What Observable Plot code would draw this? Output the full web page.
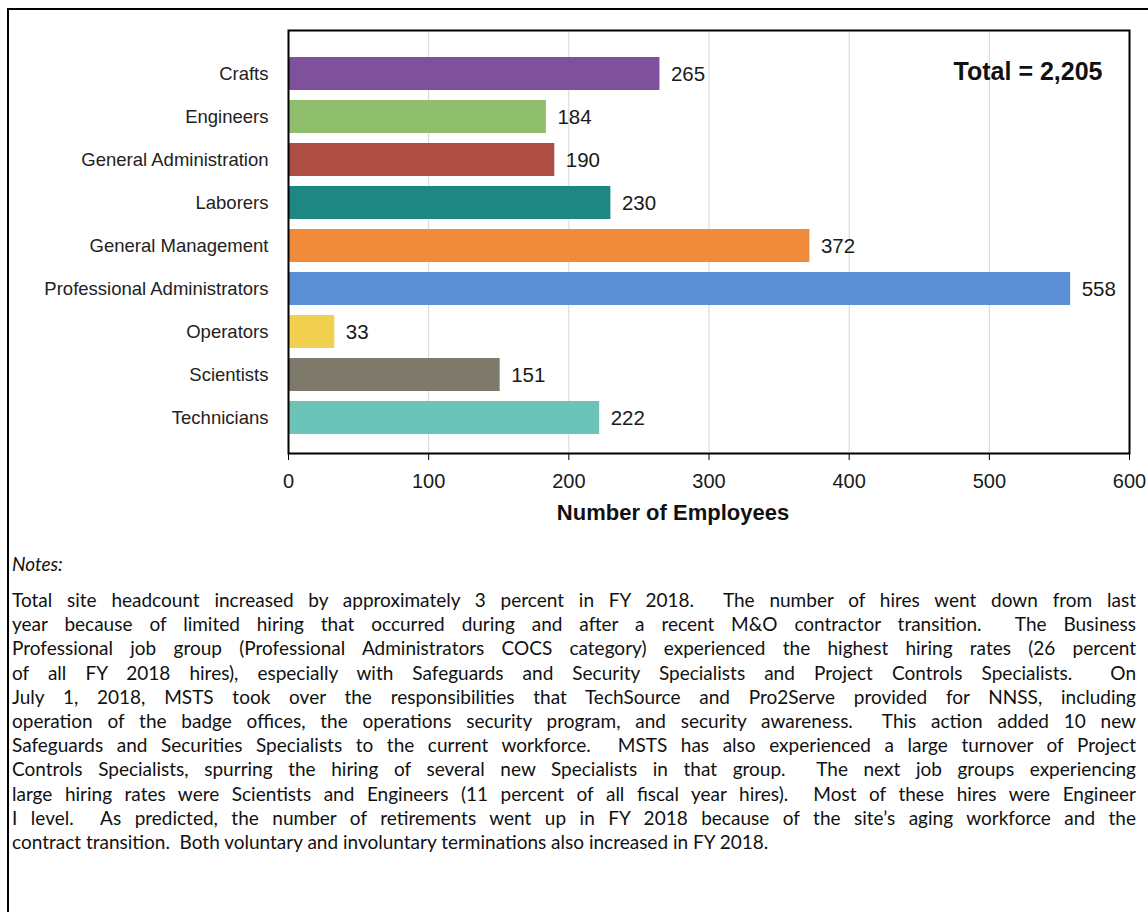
<!DOCTYPE html>
<html>
<head>
<meta charset="utf-8">
<script src="https://cdn.jsdelivr.net/npm/d3@7"></script>
<script src="https://cdn.jsdelivr.net/npm/@observablehq/plot@0.6"></script>
<style>
  html, body { margin: 0; padding: 0; background: #fff; }
  #page { position: relative; width: 1148px; height: 912px; overflow: hidden; }
  #border { position: absolute; left: 7px; top: 8px; width: 1200px; height: 1000px;
            border-top: 2px solid #000; border-left: 2px solid #000; }
  #chart { position: absolute; left: 0; top: 0; }
  #notes-title { position: absolute; left: 12px; top: 552px; font-family: Lato, sans-serif;
                 font-style: italic; font-size: 19px; color: #111; }
  #notes { position: absolute; left: 12px; top: 588px; width: 1124px; font-family: Lato, sans-serif;
           font-size: 19px; color: #111; }
  #notes .ln { white-space: pre; text-align: justify; text-align-last: justify; height: 24.2px; line-height: 24.2px; }
  #notes .ln.last { text-align-last: left; }
</style>
</head>
<body>
<div id="page">
  <div id="border"></div>
  <div id="chart"></div>
  <div id="notes-title">Notes:</div>
  <div id="notes"></div>
</div>
<script>
const categories = ["Crafts", "Engineers", "General Administration", "Laborers", "General Management",
  "Professional Administrators", "Operators", "Scientists", "Technicians"];
const values = [265, 184, 190, 230, 372, 558, 33, 151, 222];
const barColors = ["#7f509c", "#8fbf6c", "#ad4d43", "#1e8783", "#ef8b3b", "#5a8ed5", "#f1d04f", "#7d7a6c", "#6cc3b8"];
const xTicks = [0, 100, 200, 300, 400, 500, 600];
const totalLabel = "Total = 2,205";
const xLabel = "Number of Employees";
const noteLines = [
  "Total site headcount increased by approximately 3 percent in FY 2018.  The number of hires went down from last",
  "year because of limited hiring that occurred during and after a recent M&O contractor transition.  The Business",
  "Professional job group (Professional Administrators COCS category) experienced the highest hiring rates (26 percent",
  "of all FY 2018 hires), especially with Safeguards and Security Specialists and Project Controls Specialists.  On",
  "July 1, 2018, MSTS took over the responsibilities that TechSource and Pro2Serve provided for NNSS, including",
  "operation of the badge offices, the operations security program, and security awareness.  This action added 10 new",
  "Safeguards and Securities Specialists to the current workforce.  MSTS has also experienced a large turnover of Project",
  "Controls Specialists, spurring the hiring of several new Specialists in that group.  The next job groups experiencing",
  "large hiring rates were Scientists and Engineers (11 percent of all fiscal year hires).  Most of these hires were Engineer",
  "I level.  As predicted, the number of retirements went up in FY 2018 because of the site\u2019s aging workforce and the",
  "contract transition.  Both voluntary and involuntary terminations also increased in FY 2018."
];

const data = categories.map((c, i) => ({cat: c, value: values[i], color: barColors[i]}));

const chart = Plot.plot({
  width: 1148,
  height: 540,
  marginLeft: 288,
  marginRight: 19,
  marginTop: 30,
  marginBottom: 87,
  style: {fontFamily: "'Liberation Sans', Arial, sans-serif", background: "transparent"},
  x: {domain: [0, 600], label: null},
  y: {domain: categories, padding: 0.23, insetTop: 14, insetBottom: 5, label: null},
  color: {type: "identity"},
  marks: [
    Plot.gridX(xTicks.slice(1, -1), {stroke: "#d6d6d6", strokeOpacity: 1, strokeWidth: 1}),
    Plot.barX(data, {x: "value", y: "cat", fill: "color"}),
    Plot.text(data, {x: "value", y: "cat", text: d => String(d.value), textAnchor: "start", dx: 11, fontSize: 20.5, fill: "#1a1a1a"}),
    Plot.frame({stroke: "#000", strokeWidth: 2}),
    Plot.axisX({ticks: xTicks, tickSize: 7, tickPadding: 13, fontSize: 20, label: null, tickFormat: d => String(d), color: "#1a1a1a", stroke: "#000"}),
    Plot.axisY({tickSize: 0, tickPadding: 20, fontSize: 18.5, label: null, color: "#222"}),
    Plot.text([totalLabel], {frameAnchor: "top-right", text: d => d, dx: -27, dy: 32, fontSize: 25, fontWeight: "bold", textAnchor: "end", fill: "#111"}),
    Plot.text([xLabel], {frameAnchor: "bottom", text: d => d, dx: -36, dy: 66, fontSize: 22, fontWeight: "bold", fill: "#111"})
  ]
});
document.getElementById("chart").appendChild(chart);

const notes = document.getElementById("notes");
noteLines.forEach((t, i) => {
  const d = document.createElement("div");
  d.className = "ln" + (i === noteLines.length - 1 ? " last" : "");
  d.textContent = t;
  notes.appendChild(d);
});
// tighten letter spacing so the longest line fits the text width
const probe = document.createElement("span");
probe.style.cssText = "position:absolute;visibility:hidden;white-space:pre;font-family:Lato,sans-serif;font-size:19px";
document.body.appendChild(probe);
let worst = 0;
noteLines.forEach(t => {
  probe.textContent = t;
  const w = probe.getBoundingClientRect().width;
  const need = (w - 1116) / t.length;
  worst = Math.max(worst, need);
});
probe.remove();
if (worst > 0) notes.style.letterSpacing = (-worst) + "px";
</script>
</body>
</html>
